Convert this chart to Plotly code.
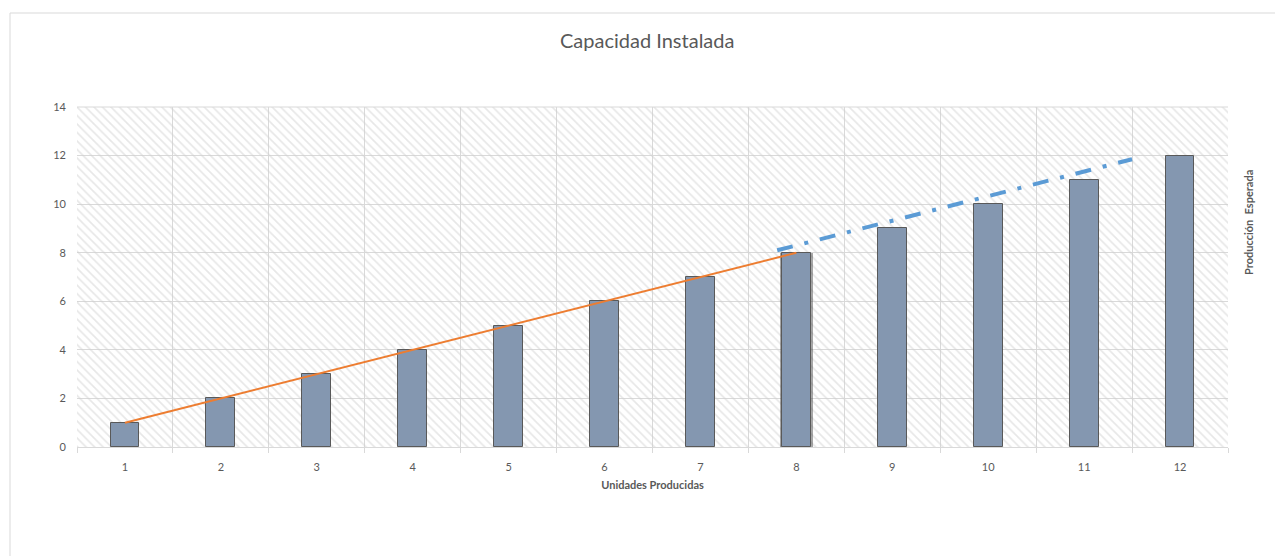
import plotly.graph_objects as go

# Chart data
unidades = [1, 2, 3, 4, 5, 6, 7, 8, 9, 10, 11, 12]
produccion = [1, 2, 3, 4, 5, 6, 7, 8, 9, 10, 11, 12]

# Current trend (orange) over units 1..8
tendencia_x = [1, 8]
tendencia_y = [1, 8]

# Projected trend (blue, dash-dot)
proyeccion_x = [7.8, 11.5]
proyeccion_y = [8.1, 11.85]

y_max = 14
y_ticks = [0, 2, 4, 6, 8, 10, 12, 14]

W, H = 1275, 556
L, R, T, B = 77, 47, 107, 109
pw, ph = W - L - R, H - T - B


def px_x(p):
    return (p - L) / pw


def px_y(p):
    return (H - B - p) / ph


GRID = "#d9d9d9"
TXT = "#595959"
FONT = "Lato, 'Open Sans', sans-serif"

fig = go.Figure()

# Hatched plot background
fig.add_trace(go.Bar(
    x=[6.5], y=[y_max], width=[12],
    marker=dict(color="rgba(0,0,0,0)", line=dict(width=0),
                pattern=dict(shape="\\", fgcolor="#d0d0d0", bgcolor="rgba(0,0,0,0)",
                             size=6, solidity=0.28)),
    hoverinfo="skip", showlegend=False,
))

# Soft shadow behind the highlighted unit
fig.add_trace(go.Bar(
    x=[unidades[7]], y=[produccion[7]], width=[0.34],
    marker=dict(color="rgba(60,60,60,0.45)", line=dict(width=0)),
    hoverinfo="skip", showlegend=False,
))

# Production bars
fig.add_trace(go.Bar(
    x=unidades, y=produccion, width=0.3,
    marker=dict(color="#8497b0", line=dict(color="#595959", width=1)),
    showlegend=False,
))

fig.add_trace(go.Scatter(
    x=tendencia_x, y=tendencia_y, mode="lines",
    line=dict(color="#ed7d31", width=2), showlegend=False,
))

fig.add_trace(go.Scatter(
    x=proyeccion_x, y=proyeccion_y, mode="lines",
    line=dict(color="#5b9bd5", width=4, dash="16px,12px,4px,12px"),
    showlegend=False,
))

fig.update_layout(
    width=W, height=H,
    margin=dict(l=L, r=R, t=T, b=B),
    paper_bgcolor="white", plot_bgcolor="white",
    barmode="overlay", bargap=0,
    font=dict(family=FONT, color=TXT, size=11),
    xaxis=dict(
        range=[0.5, 12.5], tickvals=unidades, ticktext=[str(u) for u in unidades],
        showgrid=False, ticks="", zeroline=False,
        showline=True, linecolor=GRID, linewidth=1,
        tickfont=dict(size=11, color=TXT), ticklabelstandoff=10,
        minor=dict(tickvals=[i + 0.5 for i in range(13)], showgrid=True,
                   gridcolor=GRID, gridwidth=1, ticks="outside", ticklen=5,
                   tickcolor=GRID),
        title=dict(text="<b>Unidades Producidas</b>", font=dict(size=11, color=TXT),
                   standoff=9),
        mirror=False,
    ),
    yaxis=dict(
        range=[0, y_max], tickvals=y_ticks, showgrid=True, gridcolor=GRID,
        gridwidth=1, zeroline=False, showline=False, ticks="",
        tickfont=dict(size=11, color=TXT), ticklabelstandoff=10,
    ),
    shapes=[
        dict(type="rect", xref="paper", yref="paper",
             x0=px_x(10), x1=px_x(1290), y0=px_y(13), y1=px_y(570),
             line=dict(color="#d9d9d9", width=1), fillcolor="rgba(0,0,0,0)",
             layer="below"),
        dict(type="line", xref="paper", yref="paper",
             x0=0, x1=1, y0=1, y1=1, line=dict(color=GRID, width=1)),
    ],
    annotations=[
        dict(text="Capacidad Instalada", xref="paper", yref="paper",
             x=px_x(647), y=px_y(40), xanchor="center", yanchor="middle",
             showarrow=False, font=dict(size=20, color=TXT, family=FONT)),
        dict(text="<b>Producción  Esperada</b>", xref="paper", yref="paper",
             x=px_x(1248), y=px_y(223), xanchor="center", yanchor="middle",
             showarrow=False, textangle=-90,
             font=dict(size=11, color=TXT, family=FONT)),
    ],
)

fig.write_html("out.html")
